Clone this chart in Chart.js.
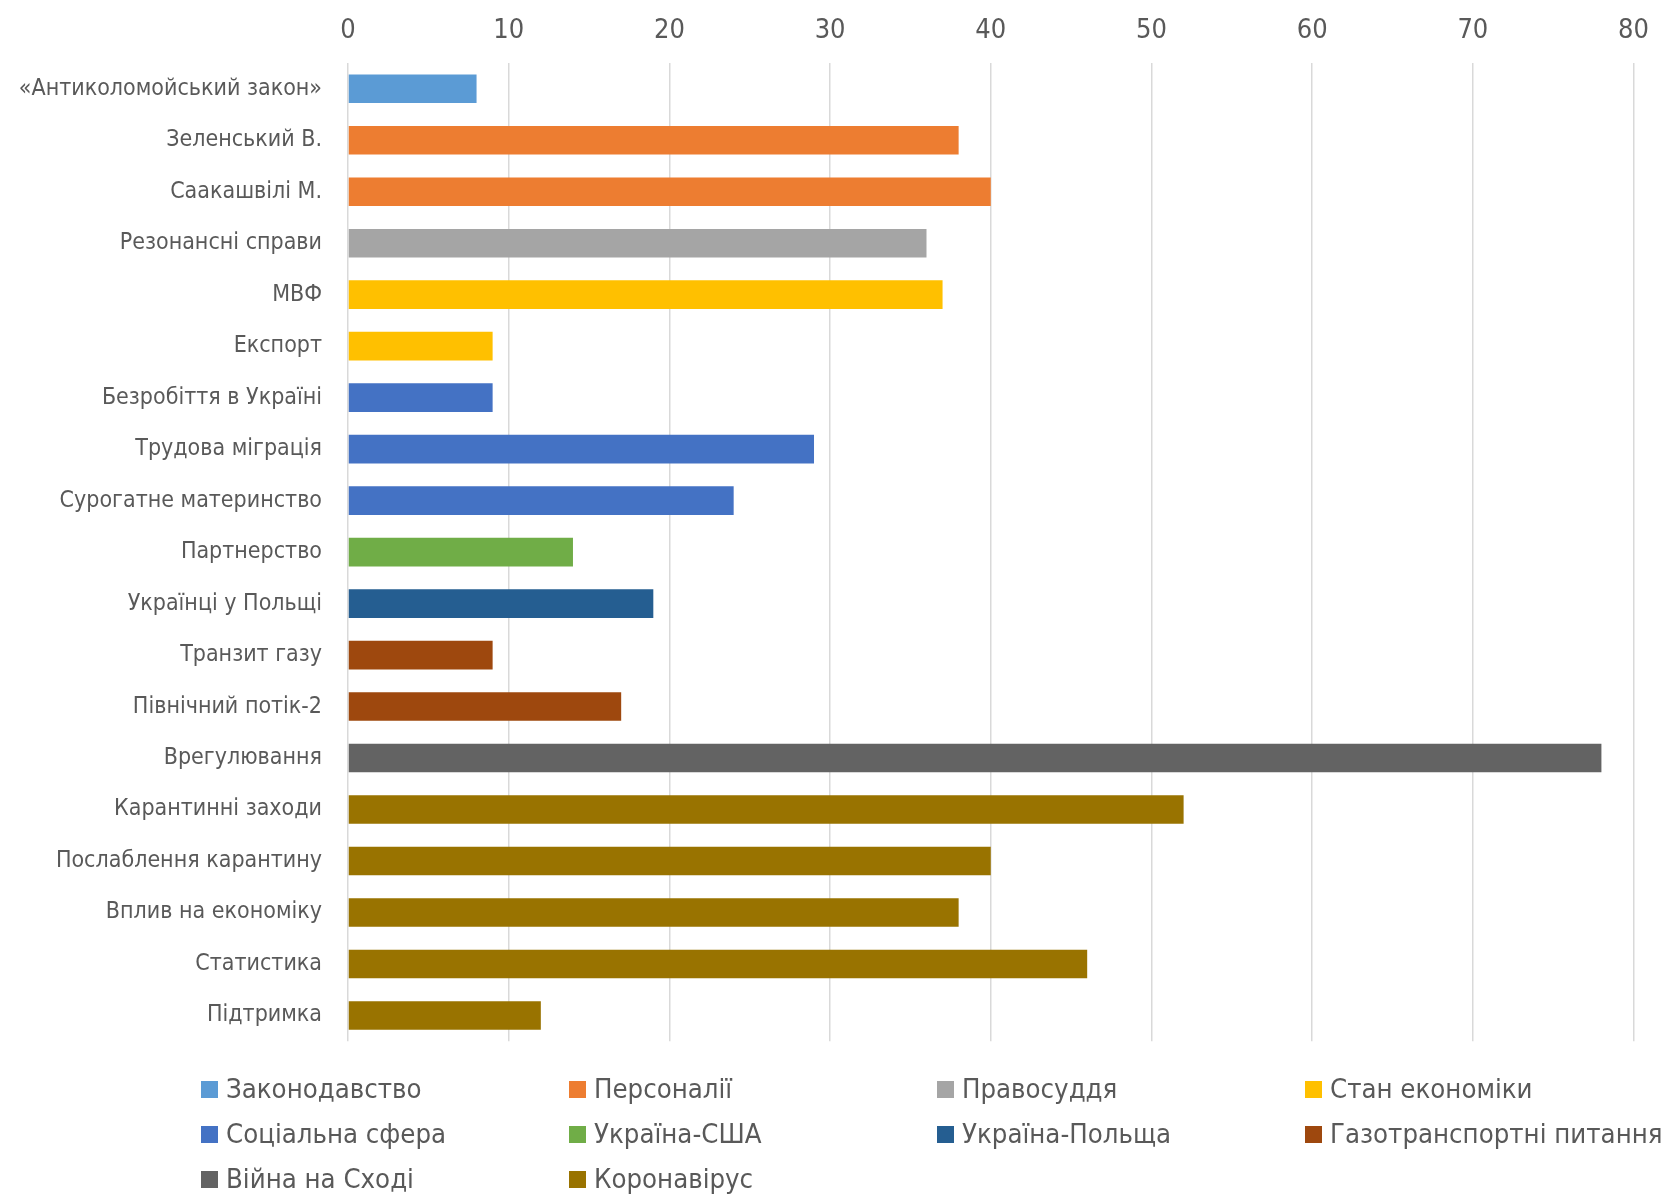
<!DOCTYPE html>
<html>
<head>
<meta charset="utf-8">
<script src="https://cdn.jsdelivr.net/npm/chart.js@4/dist/chart.umd.min.js"></script>
<style>
  html, body { margin: 0; padding: 0; background: #fff; }
  #wrap { position: relative; width: 1665px; height: 1072px; }
  #chart { position: absolute; left: 0; top: 0; }
  #legend {
    position: relative;
    display: grid;
    grid-template-columns: 368px 368px 368px 368px;
    margin-left: 201px;
    row-gap: 12px;
    font-family: 'DejaVu Sans Condensed', 'DejaVu Sans', sans-serif;
    font-stretch: condensed;
    font-size: 27.3px;
    color: #595959;
  }
  #legend span.box { display: inline-block; width: 17px; height: 17px; margin-right: 8px; }
  #legend div { white-space: nowrap; line-height: 33px; }
</style>
</head>
<body>
<div id="wrap"><canvas id="chart" width="1665" height="1081"></canvas></div>
<div id="legend"></div>
<script>
const FONT = "'DejaVu Sans Condensed', 'DejaVu Sans', sans-serif";

// Теми (категорії)
const categories = [
  '«Антиколомойський закон»', 'Зеленський В.', 'Саакашвілі М.', 'Резонансні справи',
  'МВФ', 'Експорт', 'Безробіття в Україні', 'Трудова міграція', 'Сурогатне материнство',
  'Партнерство', 'Українці у Польщі', 'Транзит газу', 'Північний потік-2', 'Врегулювання',
  'Карантинні заходи', 'Послаблення карантину', 'Вплив на економіку', 'Статистика', 'Підтримка'
];

// Кількість згадок по кожній темі
const values = [8, 38, 40, 36, 37, 9, 9, 29, 24, 14, 19, 9, 17, 78, 52, 40, 38, 46, 12];

// Групи (серії) і до якої групи належить кожна тема
const groups = [
  'Законодавство', 'Персоналії', 'Правосуддя', 'Стан економіки', 'Соціальна сфера',
  'Україна-США', 'Україна-Польща', 'Газотранспортні питання', 'Війна на Сході', 'Коронавірус'
];
const groupOf = [0, 1, 1, 2, 3, 3, 4, 4, 4, 5, 6, 7, 7, 8, 9, 9, 9, 9, 9];
const colors = ['#5B9BD5', '#ED7D31', '#A5A5A5', '#FFC000', '#4472C4',
                '#70AD47', '#255E91', '#9E480E', '#636363', '#997300'];

const xTicks = [0, 10, 20, 30, 40, 50, 60, 70, 80];

const datasets = groups.map((g, gi) => ({
  label: g,
  data: values.map((v, i) => groupOf[i] === gi ? v : null),
  backgroundColor: colors[gi],
  barPercentage: 0.556,
  categoryPercentage: 1.0
}));

const chart = new Chart(document.getElementById('chart').getContext('2d'), {
  type: 'bar',
  data: { labels: categories, datasets: datasets },
  options: {
    indexAxis: 'y',
    responsive: false,
    animation: false,
    layout: { padding: { left: 0, right: 29, top: 0, bottom: 0 } },
    plugins: { legend: { display: false }, tooltip: { enabled: false } },
    scales: {
      x: {
        position: 'top',
        stacked: true,
        min: 0, max: 80,
        afterBuildTicks: s => { s.ticks = xTicks.map(v => ({ value: v })); },
        grid: { color: '#d9d9d9', lineWidth: 1.5, drawTicks: false },
        border: { display: false },
        ticks: { color: '#595959', font: { family: FONT, size: 27 }, padding: 16 },
        afterFit: s => { s.height = 63; }
      },
      y: {
        stacked: true,
        grid: { display: false, drawTicks: false },
        border: { display: false },
        ticks: { color: '#595959', font: { family: FONT, size: 23 }, padding: 26, autoSkip: false },
        afterFit: s => { s.width = 348; }
      }
    }
  }
});

// Легенда в чотири колонки
const legend = document.getElementById('legend');
chart.data.datasets.forEach(ds => {
  const d = document.createElement('div');
  d.innerHTML = '<span class="box" style="background:' + ds.backgroundColor + '"></span>' + ds.label;
  legend.appendChild(d);
});
</script>
</body>
</html>
